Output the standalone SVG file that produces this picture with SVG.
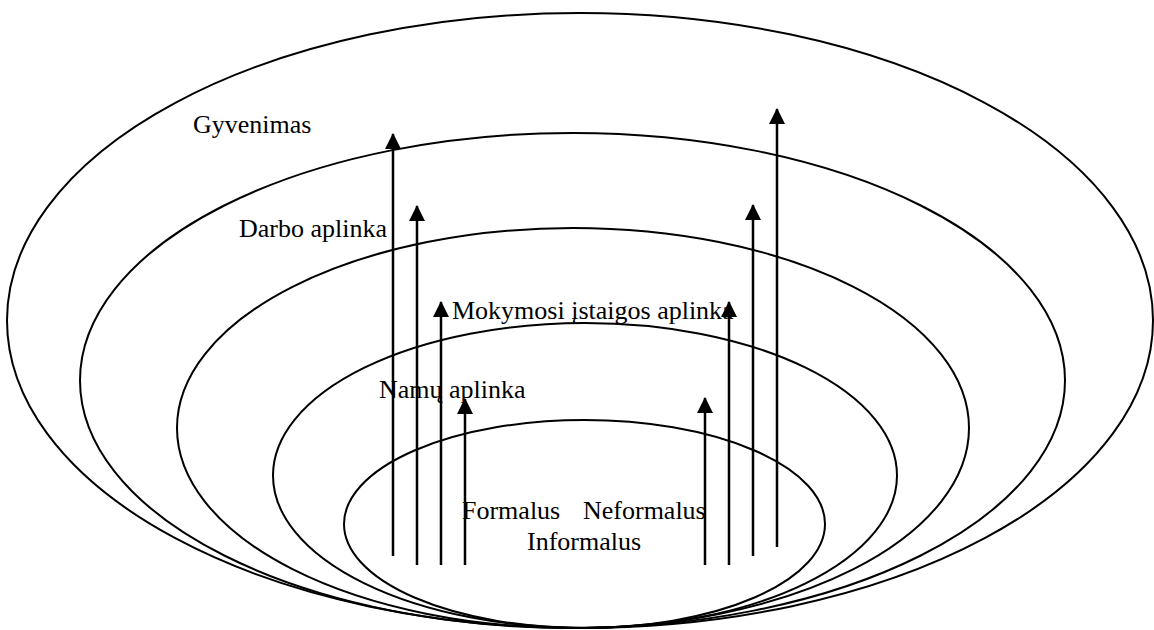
<svg xmlns="http://www.w3.org/2000/svg" width="1154" height="630" viewBox="0 0 1154 630">
<style>
.ring{fill:none;stroke:#000;stroke-width:2}
.lbl{font-family:"Liberation Serif","Times New Roman",serif;font-size:26px;fill:#000}
.arr{stroke:#000;stroke-width:2.5;fill:none;marker-end:url(#ah)}
</style>
<defs>
<marker id="ah" markerWidth="16" markerHeight="16" viewBox="0 0 16 16" refX="15" refY="8" markerUnits="userSpaceOnUse" orient="auto">
<path d="M0,0 L16,8 L0,16 Z" fill="#000"/>
</marker>
</defs>
<rect width="1154" height="630" fill="#fff"/>
<g id="gyvenimas">
<ellipse class="ring" cx="580" cy="320.5" rx="573" ry="307.5"/>
<text class="lbl" x="193" y="133">Gyvenimas</text>
</g>
<g id="darbo">
<ellipse class="ring" cx="572.5" cy="380.5" rx="492.5" ry="247.5"/>
<text class="lbl" x="239" y="237">Darbo aplinka</text>
</g>
<g id="mokymosi">
<ellipse class="ring" cx="573" cy="428" rx="396" ry="200"/>
<text class="lbl" x="452" y="319">Mokymosi įstaigos aplinka</text>
</g>
<g id="namu">
<ellipse class="ring" cx="585" cy="475.5" rx="312" ry="152.5"/>
<text class="lbl" x="379" y="398">Namų aplinka</text>
</g>
<g id="centras">
<ellipse class="ring" cx="584.5" cy="524" rx="240.5" ry="104"/>
<text class="lbl" y="519"><tspan x="462">Formalus</tspan><tspan x="583">Neformalus</tspan></text>
<text class="lbl" x="527" y="550">Informalus</text>
</g>
<g id="connectors">
<path class="arr" d="M393,556 V134"/>
<path class="arr" d="M417,565 V206"/>
<path class="arr" d="M441,565 V302"/>
<path class="arr" d="M465,565 V399"/>
<path class="arr" d="M705,565 V398"/>
<path class="arr" d="M729,565 V302"/>
<path class="arr" d="M753,556 V205"/>
<path class="arr" d="M777,547 V109"/>
</g>
</svg>
